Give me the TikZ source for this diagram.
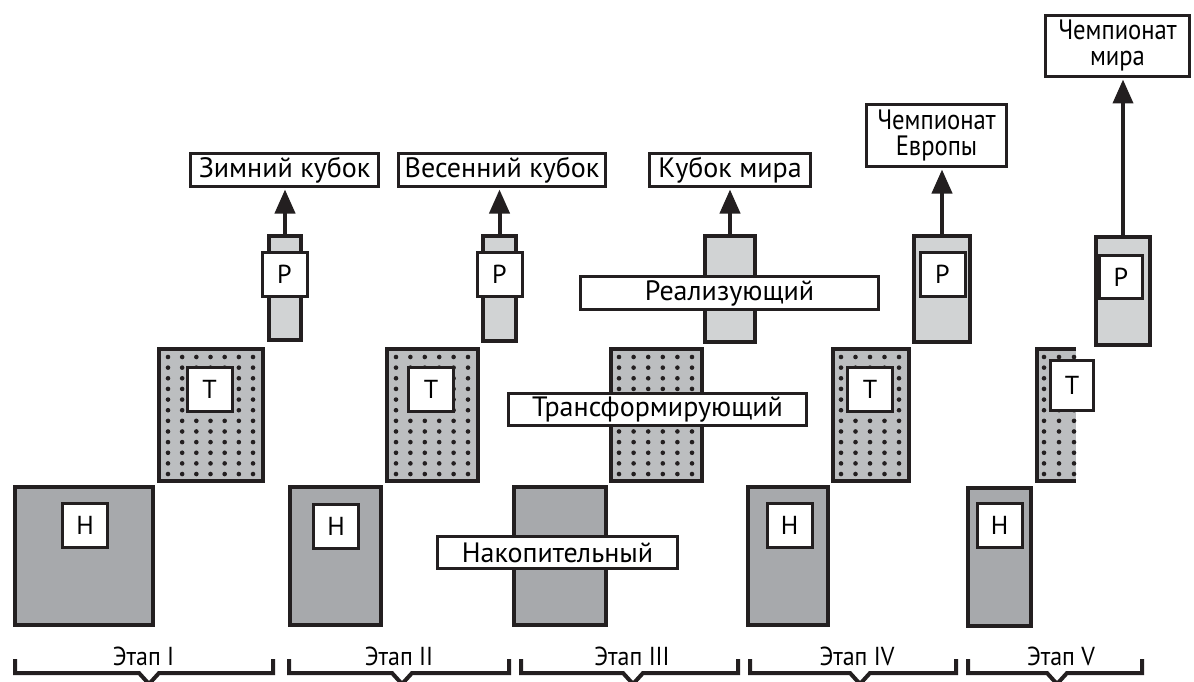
\documentclass[tikz,border=0pt]{standalone}
\usepackage{fontspec}
\setmainfont{PT Sans}
\usetikzlibrary{arrows.meta}
\definecolor{hfill}{HTML}{A7A9AC}
\definecolor{tfill}{HTML}{BCBEC0}
\definecolor{pfill}{HTML}{D1D3D4}
\definecolor{ink}{HTML}{231F20}
\begin{document}
\begin{tikzpicture}[x=1pt,y=-1pt,
  col/.style={draw=ink, line width=4pt, inner sep=0pt, outer sep=0pt},
  hcol/.style={col, fill=hfill},
  tcol/.style={col, fill=tfill},
  pcol/.style={col, fill=pfill},
  lbl/.style={draw=ink, fill=white, line width=3pt, inner sep=0pt, outer sep=0pt,
    font=\fontsize{28}{26}\selectfont, align=center},
  letter/.style={lbl, font=\fontsize{26}{26}\selectfont},
  narrow/.style={lbl, font=\fontsize{28}{26}\selectfont\addfontfeatures{FakeStretch=0.88}},
  conn/.style={draw=ink, line width=4pt, -{Triangle[width=20pt,length=24pt]}, shorten >=3pt},
  brace/.style={draw=ink, line width=4pt, line join=miter},
  stagetxt/.style={font=\fontsize{26}{26}\selectfont\addfontfeatures{FakeStretch=0.92}, anchor=base, inner sep=0pt},
  dotc/.style={fill=ink}
]
\useasboundingbox (0,0) rectangle (1194,682);
\fill[white] (0,0) rectangle (1194,682);

% ---------- columns ----------
\node[hcol, minimum width=138pt, minimum height=138pt] (H1) at (84,556) {};
\node[tcol, minimum width=104pt, minimum height=132pt] (T1) at (211,415) {};
\node[pcol, minimum width=32pt, minimum height=104pt] (P1) at (285,288) {};

\node[hcol, minimum width=91pt, minimum height=138pt] (H2) at (335.5,556) {};
\node[tcol, minimum width=91pt, minimum height=132pt] (T2) at (432.5,415) {};
\node[pcol, minimum width=33pt, minimum height=105pt] (P2) at (499.5,288.5) {};

\node[hcol, minimum width=92pt, minimum height=138pt] (H3) at (560,556) {};
\node[tcol, minimum width=91pt, minimum height=132pt] (T3) at (656.5,415) {};
\node[pcol, minimum width=50pt, minimum height=106pt] (P3) at (730,289) {};

\node[hcol, minimum width=80pt, minimum height=138pt] (H4) at (788,556) {};
\node[tcol, minimum width=76pt, minimum height=132pt] (T4) at (871,415) {};
\node[pcol, minimum width=56pt, minimum height=106pt] (P4) at (942,289) {};

\node[hcol, minimum width=63pt, minimum height=138pt] (H5) at (999.5,557) {};
\fill[tfill] (1035,347) rectangle (1076,483);
\coordinate (T5a) at (1076,349);
\coordinate (T5b) at (1076,481);
\node[pcol, minimum width=54pt, minimum height=108pt] (P5) at (1123,291) {};

% ---------- dots ----------
\foreach \i in {0,...,11}{
  \foreach \j in {0,...,6}{\fill[dotc] (168+14.17*\j, 357+10.64*\i) circle (2.3pt);}
  \foreach \j in {0,...,5}{\fill[dotc] (396+14.4*\j, 357+10.64*\i) circle (2.3pt);}
  \foreach \j in {0,...,5}{\fill[dotc] (619+14.6*\j, 357+10.64*\i) circle (2.3pt);}
  \foreach \j in {0,...,4}{\fill[dotc] (841+14.5*\j, 357+10.64*\i) circle (2.3pt);}
  \foreach \j in {0,...,2}{\fill[dotc] (1044+15*\j, 357+10.64*\i) circle (2.3pt);}
}
\draw[brace] (T5a) -- (1037,349) -- (1037,481) -- (T5b);

% ---------- letter boxes ----------
\node[letter, minimum width=45pt, minimum height=44pt] (h1) at (85,525.5) {Н};
\node[letter, minimum width=45pt, minimum height=44pt] (t1) at (209.5,389.5) {Т};
\node[letter, minimum width=45pt, minimum height=44pt] (p1) at (284.5,274) {Р};

\node[letter, minimum width=45pt, minimum height=44pt] (h2) at (336,526) {Н};
\node[letter, minimum width=45pt, minimum height=44pt] (t2) at (431,389.5) {Т};
\node[letter, minimum width=45pt, minimum height=44pt] (p2) at (499.5,274.5) {Р};

\node[letter, minimum width=45pt, minimum height=44pt] (h4) at (789.5,525.5) {Н};
\node[letter, minimum width=45pt, minimum height=44pt] (t4) at (870,389.5) {Т};
\node[letter, minimum width=45pt, minimum height=44pt] (p4) at (942.5,274.5) {Р};

\node[letter, minimum width=45pt, minimum height=44pt] (h5) at (999.5,525.5) {Н};
\node[letter, minimum width=43pt, minimum height=50pt] (t5) at (1072,385.5) {Т};
\node[letter, minimum width=43pt, minimum height=43pt] (p5) at (1121,277) {Р};

% ---------- stage III wide labels ----------
\node[lbl, minimum width=298pt, minimum height=33pt] (real) at (729.5,293) {Реализующий};
\node[lbl, minimum width=298pt, minimum height=32pt] (trans) at (657.5,409.5) {Трансформирующий};
\node[lbl, minimum width=240pt, minimum height=32pt] (nak) at (557.5,552.5) {Накопительный};

% ---------- goals ----------
\node[lbl, minimum width=188pt, minimum height=33pt] (g1) at (284.5,170) {Зимний кубок};
\node[lbl, minimum width=207pt, minimum height=33pt] (g2) at (502,170) {Весенний кубок};
\node[lbl, minimum width=161pt, minimum height=33pt] (g3) at (730,170) {Кубок мира};
\node[narrow, minimum width=140pt, minimum height=62pt] (g4) at (936.5,135.5) {Чемпионат\\Европы};
\node[narrow, minimum width=144pt, minimum height=61pt] (g5) at (1117.5,46) {Чемпионат\\мира};

% ---------- arrows ----------
\draw[conn] (P1.north) -- (P1.north |- g1.south);
\draw[conn] (P2.north) -- (P2.north |- g2.south);
\draw[conn] (P3.north) -- (P3.north |- g3.south);
\draw[conn] (P4.north) -- (P4.north |- g4.south);
\draw[conn] (P5.north) -- (P5.north |- g5.south);

% ---------- braces ----------
\draw[brace] (15,659) -- (15,673) -- (139,673) -- (149,684) -- (159,673) -- (273,673) -- (273,659);
\draw[brace] (289,659) -- (289,673) -- (392,673) -- (402,684) -- (412,673) -- (509,673) -- (509,659);
\draw[brace] (521,659) -- (521,673) -- (623,673) -- (633,684) -- (643,673) -- (738,673) -- (738,659);
\draw[brace] (750,659) -- (750,673) -- (850,673) -- (860,684) -- (870,673) -- (956,673) -- (956,659);
\draw[brace] (968,659) -- (968,673) -- (1047,673) -- (1057,684) -- (1067,673) -- (1142,673) -- (1142,659);

\node[stagetxt] (s1) at (143.5,665) {Этап I};
\node[stagetxt] (s2) at (399,665) {Этап II};
\node[stagetxt] (s3) at (632,665) {Этап III};
\node[stagetxt] (s4) at (857,665) {Этап IV};
\node[stagetxt] (s5) at (1061,665) {Этап V};
\end{tikzpicture}
\end{document}
